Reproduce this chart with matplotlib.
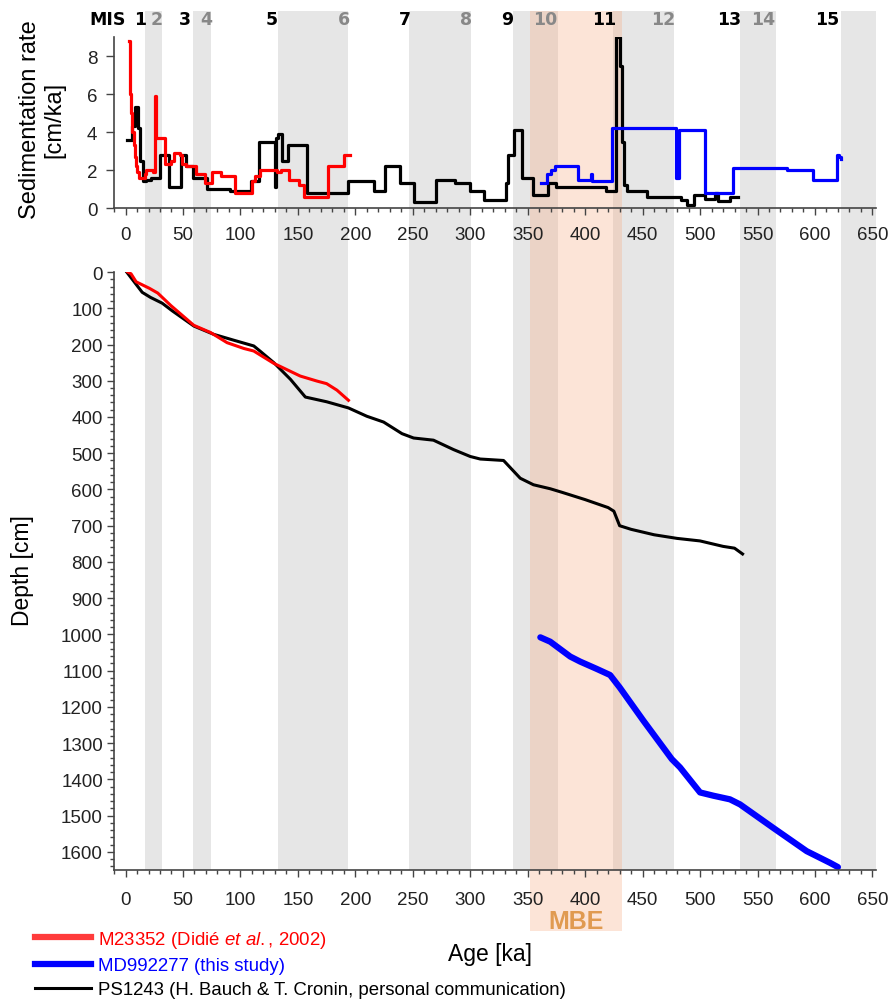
import matplotlib
matplotlib.use("Agg")
import matplotlib.pyplot as plt
from matplotlib.patches import Rectangle
from matplotlib.lines import Line2D
from matplotlib.ticker import MultipleLocator
import matplotlib.transforms as mtransforms

plt.rcParams['font.family'] = ['Liberation Sans', 'DejaVu Sans']
plt.rcParams['mathtext.fontset'] = 'custom'
plt.rcParams['mathtext.rm'] = 'Liberation Sans'
plt.rcParams['mathtext.it'] = 'Liberation Sans:italic'

# glacial (even) stages shaded grey, [start, end] in ka
even_stages = [(17, 32), (59, 74), (133, 194), (247, 301), (337, 376),
               (424, 477), (535, 566), (623, 653)]
mbe = (352, 432)

mis_labels = ["1", "2", "3", "4", "5", "6", "7", "8", "9", "10", "11", "12", "13", "14", "15"]
mis_pos = [13, 27, 52, 70, 127, 190, 243, 296, 332, 365, 417, 468, 525, 555, 611]

# sedimentation rates (steps, value holds from age to next age)
ps_age = [1, 6, 8, 11, 13, 15, 18, 22, 30, 38, 48, 53, 59, 71, 91, 109, 116, 130, 131,
          133, 136, 141, 158, 194, 216, 226, 239, 251, 270, 287, 300, 312, 331, 333, 338,
          345, 355, 368, 375, 418, 427, 430, 432, 434, 436, 454, 483, 489, 495, 504, 513,
          516, 526, 533]
ps_rate = [3.6, 4.3, 5.3, 4.2, 2.5, 1.4, 1.5, 1.6, 2.8, 1.1, 2.8, 2.2, 1.6, 1.0, 0.9, 1.4,
           3.5, 1.1, 3.7, 3.9, 2.5, 3.3, 0.8, 1.4, 0.9, 2.2, 1.3, 0.3, 1.5, 1.3, 0.9, 0.4,
           1.3, 2.8, 4.1, 1.6, 0.7, 1.3, 1.1, 0.9, 9.0, 7.5, 3.5, 1.2, 0.9, 0.6, 0.4, 0.15,
           0.7, 0.5, 0.8, 0.35, 0.6, 0.6]

m23_age = [2.8, 3.5, 4, 5, 6, 7, 8, 9, 10, 11.5, 17, 18, 24, 25.5, 26.5, 34, 40, 42, 47,
           49, 53, 61, 69, 75, 83, 95, 110, 113, 117, 132, 135, 142, 151, 155, 176, 190, 195]
m23_rate = [8.8, 7.5, 6.0, 5.0, 4.0, 3.3, 2.7, 2.2, 1.9, 1.6, 1.8, 2.0, 1.9, 5.9, 3.7, 2.3,
            2.5, 2.9, 2.8, 2.3, 2.2, 1.8, 1.3, 1.9, 1.7, 0.8, 1.4, 1.7, 2.0, 1.9, 2.0, 1.5,
            1.2, 0.6, 2.2, 2.8, 2.8]

md_age = [362, 367, 370, 374, 394, 405, 406, 423, 479, 482, 504, 529, 576, 598, 619, 621, 623]
md_rate = [1.3, 1.8, 2.0, 2.2, 1.5, 1.8, 1.4, 4.2, 1.6, 4.1, 0.8, 2.1, 2.0, 1.5, 2.8, 2.7, 2.6]

# age-depth models
ps_dage = [1, 14.5, 21.7, 31.9, 40.6, 59.4, 76.8, 94, 111.6, 117, 129, 143.5, 156.5, 175,
           194, 210, 224.6, 240.6, 250.7, 268, 285.5, 300, 308.7, 329, 343.5, 355, 369.6,
           380, 400, 420, 425, 430, 440, 460, 480, 500, 520, 530, 537]
ps_depth = [0, 56, 70, 86, 107, 149, 172, 188, 204, 218, 250, 296, 345, 358, 375, 398, 414,
            446, 458, 464, 490, 509, 516, 520, 569, 587, 598, 608, 628, 650, 660, 700, 710,
            725, 735, 742, 757, 762, 778]

m23_dage = [2, 4.8, 9.2, 20.8, 28, 39.6, 59.4, 74, 88.4, 103, 111.6, 129, 152, 166.7, 175,
            184, 194]
m23_depth = [0, 5, 27, 45, 58, 93, 147, 167, 195, 211, 218, 252, 287, 301, 308, 326, 354]

md_dage = [361, 369.6, 387, 395.7, 410, 421.7, 430, 450.7, 475.4, 482.6, 500, 511.6, 526,
           534.8, 563.8, 592.8, 613, 620]
md_depth = [1008, 1020, 1061, 1075, 1095, 1112, 1146, 1238, 1344, 1367, 1436, 1445, 1455,
            1469, 1534, 1598, 1630, 1642]

RED = '#ff0000'
BLUE = '#0000ff'
GREY = '#e6e6e6'
TXT = '#222222'

fig = plt.figure(figsize=(8.91, 10.03), dpi=100)
ax1 = fig.add_axes([0.128, 0.7916, 0.855, 0.1705])
ax2 = fig.add_axes([0.128, 0.1316, 0.855, 0.5962])

for ax in (ax1, ax2):
    ax.set_facecolor('none')
    ax.set_xlim(-10, 653)
    ax.spines['top'].set_visible(False)
    ax.spines['right'].set_visible(False)
    for s in ('left', 'bottom'):
        ax.spines[s].set_color('#444444')
        ax.spines[s].set_linewidth(1.2)
    ax.xaxis.set_major_locator(MultipleLocator(50))
    ax.xaxis.set_minor_locator(MultipleLocator(10))
    ax.tick_params(which='major', length=5, width=1, color='#444444', labelsize=13.5,
                   labelcolor=TXT)
    ax.tick_params(which='minor', length=3, width=1, color='#444444')
ax1.tick_params(axis='x', pad=8)
ax2.tick_params(axis='x', pad=10)

# shaded bands across both panels
trans = mtransforms.blended_transform_factory(ax2.transData, fig.transFigure)
y_top = 1 - 12 / 1003
y_bot = 0.1316
for a, b in even_stages:
    fig.add_artist(Rectangle((a, y_bot), b - a, y_top - y_bot, transform=trans,
                             facecolor=GREY, edgecolor='none', zorder=-2))
y_mbe = 1 - 932 / 1003
fig.add_artist(Rectangle((mbe[0], y_mbe), mbe[1] - mbe[0], y_top - y_mbe, transform=trans,
                         facecolor='#f8a87d', alpha=0.3, edgecolor='none', zorder=-1))

# top panel
ax1.plot(ps_age, ps_rate, drawstyle='steps-post', color='black', lw=2.3)
ax1.plot(m23_age, m23_rate, drawstyle='steps-post', color=RED, lw=2.3)
ax1.plot(md_age, md_rate, drawstyle='steps-post', color=BLUE, lw=2.3)
ax1.set_ylim(0, 9)
ax1.set_yticks([0, 2, 4, 6, 8])
ax1.tick_params(axis='y', pad=6, length=6)

ax1.text(0, 1.105, "MIS", transform=ax1.get_xaxis_transform(), ha='right', va='center',
         fontsize=12.5, fontweight='bold', family='DejaVu Sans', color='black')
for lab, xp in zip(mis_labels, mis_pos):
    c = 'black' if int(lab) % 2 else '#888888'
    ax1.text(xp, 1.105, lab, transform=ax1.get_xaxis_transform(), ha='center', va='center',
             fontsize=12.5, fontweight='bold', family='DejaVu Sans', color=c)

# bottom panel
ax2.plot(ps_dage, ps_depth, color='black', lw=2.2)
ax2.plot(m23_dage, m23_depth, color=RED, lw=2.2)
ax2.plot(md_dage, md_depth, color=BLUE, lw=4.5, solid_capstyle='round')
ax2.yaxis.set_minor_locator(MultipleLocator(20))
ax2.set_yticks(range(0, 1700, 100))
ax2.set_ylim(1650, 0)
ax2.tick_params(axis='y', pad=3)

fig.text(42 / 891, 1 - 120 / 1003, "Sedimentation rate\n[cm/ka]", rotation=90, ha='center',
         va='center', fontsize=17, linespacing=1.15)
fig.text(22 / 891, 1 - 571 / 1003, "Depth [cm]", rotation=90, ha='center', va='center',
         fontsize=16.5)
fig.text(490 / 891, 1 - 955 / 1003, "Age [ka]", ha='center', va='center', fontsize=16.5)
ax2.text((mbe[0] + mbe[1]) / 2, 1 - 934 / 1003, "MBE",
         transform=mtransforms.blended_transform_factory(ax2.transData, fig.transFigure),
         ha='center', va='bottom', fontsize=18, fontweight='bold', color='#e09a50')

handles = [Line2D([], [], color='#ff3b3b', lw=4.5),
           Line2D([], [], color=BLUE, lw=4.5),
           Line2D([], [], color='black', lw=2.2)]
labels = [r"M23352 (Didié $\mathit{et\ al.}$, 2002)", "MD992277 (this study)",
          "PS1243 (H. Bauch & T. Cronin, personal communication)"]
fig.legend(handles, labels, loc='upper left', bbox_to_anchor=(35 / 891, 1 - 930 / 1003),
           frameon=False, fontsize=13.4, handlelength=3.0, handletextpad=0.4,
           labelspacing=0.38, borderpad=0, borderaxespad=0,
           labelcolor=[RED, BLUE, 'black'])

fig.savefig("out.png", dpi=100, facecolor='white')
